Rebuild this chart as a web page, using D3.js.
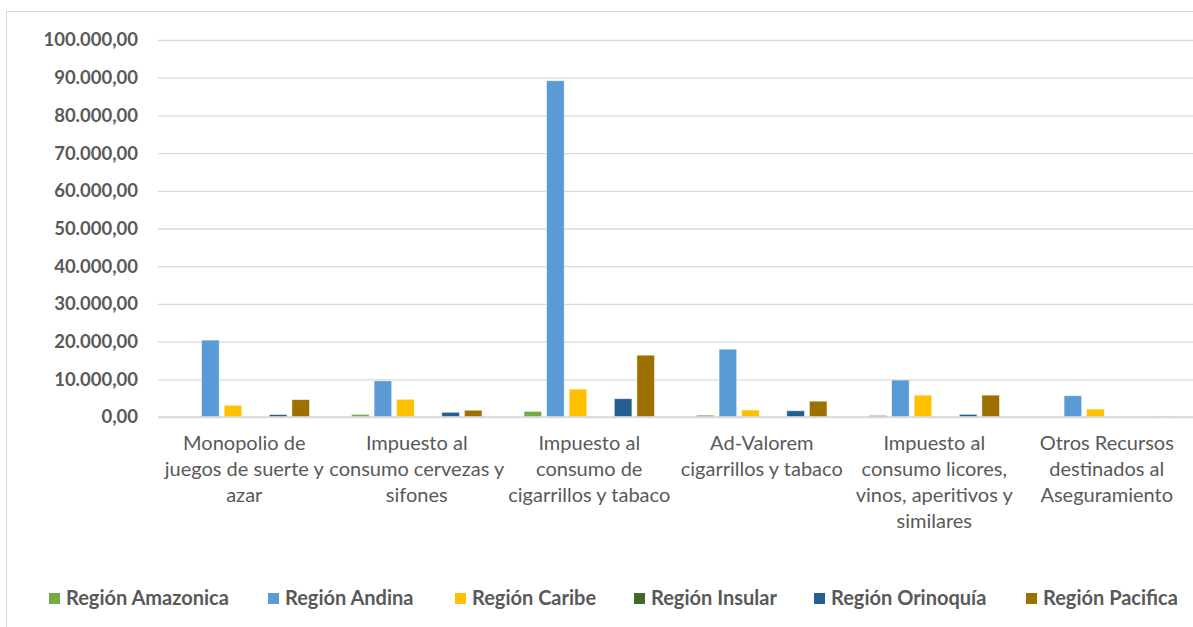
<!DOCTYPE html>
<html>
<head>
<meta charset="utf-8">
<style>
  body { margin: 0; background: #fff; }
  text { font-family: Lato, "Open Sans", sans-serif; }
</style>
</head>
<body>
<svg width="1193" height="627"></svg>
<script src="https://d3js.org/d3.v7.min.js"></script>
<script>

    // category tick labels (already broken into lines as in the picture)
    var categories = [
        ["Monopolio de", "juegos de suerte y", "azar"],
        ["Impuesto al", "consumo cervezas y", "sifones"],
        ["Impuesto al", "consumo de", "cigarrillos y tabaco"],
        ["Ad-Valorem", "cigarrillos y tabaco"],
        ["Impuesto al", "consumo licores,", "vinos, aperitivos y", "similares"],
        ["Otros Recursos", "destinados al", "Aseguramiento"]
    ];

    var series = ["Región Amazonica", "Región Andina", "Región Caribe",
                  "Región Insular", "Región Orinoquía", "Región Pacifica"];
    var colors = ["#70ad47", "#5b9bd5", "#ffc000", "#43682b", "#255e91", "#9e7000"];

    // one array per region, in the category order above
    var amazonica = [0, 700, 1500, 500, 450, 0];
    var andina = [20400, 9600, 89200, 18000, 9800, 5650];
    var caribe = [3100, 4700, 7400, 1850, 5800, 2100];
    var insular = [0, 0, 0, 0, 0, 0];
    var orinoquia = [650, 1250, 4850, 1650, 700, 0];
    var pacifica = [4600, 1800, 16400, 4200, 5800, 100];

    var yTicks = [0, 10000, 20000, 30000, 40000, 50000, 60000, 70000, 80000, 90000, 100000];

    var values = [amazonica, andina, caribe, insular, orinoquia, pacifica];

    var svg = d3.select("svg"),
        margin = {top: 40, right: 0, bottom: 210, left: 158},
        width = +svg.attr("width") - margin.left - margin.right,
        height = +svg.attr("height") - margin.top - margin.bottom;

    // chart frame
    svg.append("rect")
        .attr("x", 6.5).attr("y", 11.5)
        .attr("width", 1200).attr("height", 640)
        .attr("fill", "none")
        .attr("stroke", "#d9d9d9");

    var g = svg.append("g").attr("transform", "translate(" + margin.left + "," + margin.top + ")");

    var idx = d3.range(categories.length);

    var x0 = d3.scaleBand().domain(idx).range([0, width]);
    var gap = 21;
    var x1 = d3.scaleBand().domain(d3.range(series.length))
        .range([gap, x0.bandwidth() - gap]).paddingInner(0.22).paddingOuter(0);

    var y = d3.scaleLinear().domain([0, 100000]).range([height, 0]);

    var fmt = d3.formatLocale({decimal: ",", thousands: ".", grouping: [3], currency: ["", ""]}).format(",.2f");

    // gridlines + y labels
    var yAxis = g.append("g")
        .call(d3.axisLeft(y).tickValues(yTicks).tickSize(-width).tickPadding(20).tickFormat(fmt));
    yAxis.select(".domain").remove();
    yAxis.selectAll(".tick line").attr("stroke", "#d9d9d9").attr("stroke-width", 1.3);
    yAxis.selectAll(".tick text")
        .attr("fill", "#595959")
        .style("font-size", "18.5px")
        .style("font-weight", "bold");

    // bars
    var groups = g.selectAll(".grp")
        .data(idx)
        .enter().append("g")
        .attr("transform", function(i) { return "translate(" + x0(i) + ",0)"; });

    groups.selectAll("rect")
        .data(function(i) { return values.map(function(v, s) { return {s: s, v: v[i]}; }); })
        .enter().append("rect")
        .filter(function(d) { return d.v > 0; })
        .attr("x", function(d) { return x1(d.s); })
        .attr("width", x1.bandwidth())
        .attr("y", function(d) { return y(d.v); })
        .attr("height", function(d) { return y(0) - y(d.v); })
        .attr("fill", function(d) { return colors[d.s]; })
        .attr("stroke", "#fff")
        .attr("stroke-opacity", 0.6)
        .attr("stroke-width", 0.8);

    // baseline
    g.append("line")
        .attr("x1", 0).attr("x2", width)
        .attr("y1", y(0)).attr("y2", y(0))
        .attr("stroke", "#d9d9d9").attr("stroke-width", 1.3);

    // category labels
    var cat = g.selectAll(".cat")
        .data(idx)
        .enter().append("text")
        .attr("text-anchor", "middle")
        .attr("fill", "#595959")
        .style("font-size", "20px")
        .attr("transform", function(i) { return "translate(" + (x0(i) + x0.bandwidth() / 2) + "," + (height + 33) + ")"; });

    cat.selectAll("tspan")
        .data(function(i) { return categories[i]; })
        .enter().append("tspan")
        .attr("x", 0)
        .attr("y", function(d, k) { return k * 26; })
        .text(function(d) { return d; });

    // legend
    var legendX = [49, 268, 455, 634, 814, 1026];
    var legend = svg.append("g").selectAll("g")
        .data(series)
        .enter().append("g")
        .attr("transform", function(d, i) { return "translate(" + legendX[i] + ",593)"; });

    legend.append("rect")
        .attr("width", 11).attr("height", 11)
        .attr("fill", function(d, i) { return colors[i]; });

    legend.append("text")
        .attr("x", 17).attr("y", 12)
        .attr("fill", "#595959")
        .style("font-size", "20px")
        .style("font-weight", "bold")
        .text(function(d) { return d; });

</script>
</body>
</html>
